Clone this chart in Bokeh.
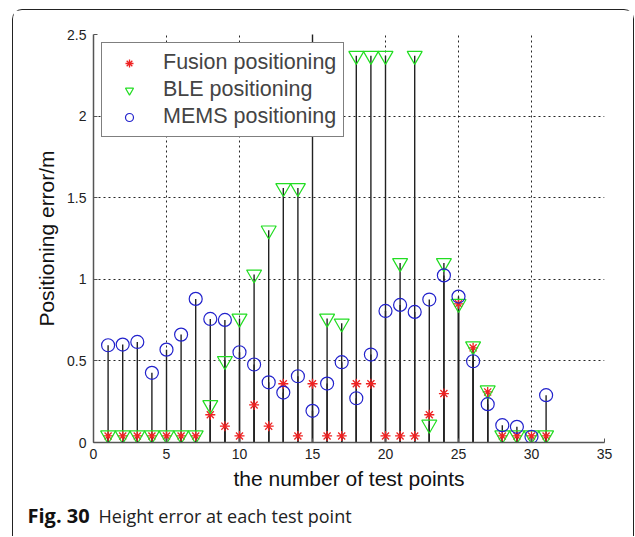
from bokeh.plotting import figure
from bokeh.layouts import column
from bokeh.models import (Legend, LegendItem, Label, ColumnDataSource,
                          NumeralTickFormatter, FixedTicker)
from bokeh.embed import file_html
from bokeh.resources import INLINE

test_points = list(range(1, 32))
fusion = [0.04, 0.04, 0.04, 0.04, 0.04, 0.04, 0.04, 0.17, 0.10, 0.04,
          0.23, 0.10, 0.36, 0.04, 0.36, 0.04, 0.04, 0.36, 0.36, 0.04,
          0.04, 0.04, 0.17, 0.30, 0.85, 0.58, 0.31, 0.04, 0.04, 0.04, 0.04]
ble = [0.045, 0.045, 0.045, 0.045, 0.045, 0.045, 0.045, 0.23, 0.50, 0.76,
       1.03, 1.30, 1.56, 1.56, 2.90, 0.76, 0.73, 2.37, 2.37, 2.37,
       1.10, 2.37, 0.11, 1.10, 0.85, 0.59, 0.32, 0.045, 0.045, 0.045, 0.045]
mems = [0.596, 0.600, 0.616, 0.427, 0.569, 0.661, 0.880, 0.757, 0.751, 0.553,
        0.478, 0.369, 0.306, 0.406, 0.194, 0.361, 0.492, 0.271, 0.539, 0.806,
        0.843, 0.800, 0.876, 1.024, 0.894, 0.498, 0.235, 0.106, 0.096, 0.035, 0.290]
series_names = ["Fusion positioning", "BLE positioning", "MEMS positioning"]
x_ticks = [0, 5, 10, 15, 20, 25, 30, 35]
y_ticks = [0, 0.5, 1, 1.5, 2, 2.5]
caption_bold = "Fig. 30"
caption_text = "Height error at each test point"

src = ColumnDataSource(dict(x=test_points, fusion=fusion, ble=ble, mems=mems,
                            zero=[0] * len(test_points)))

p = figure(width=620, height=490, x_range=(0, 35), y_range=(0, 2.5),
           output_backend="svg", toolbar_location=None,
           min_border_left=80, min_border_right=29, min_border_top=24, min_border_bottom=58)
p.outline_line_color = None

FONT = "Liberation Sans"
for ax in (p.xaxis, p.yaxis):
    ax.axis_line_color = "#555555"
    ax.axis_line_width = 1.5
    ax.major_tick_in = 4
    ax.major_tick_out = 0
    ax.major_tick_line_color = "#555555"
    ax.minor_tick_line_color = None
    ax.major_label_text_font = FONT
    ax.major_label_text_font_size = "14px"
    ax.major_label_text_color = "#222222"
    ax.axis_label_text_font = FONT
    ax.axis_label_text_font_size = "21px"
    ax.axis_label_text_font_style = "normal"
    ax.axis_label_text_color = "#111111"
p.xaxis.ticker = FixedTicker(ticks=x_ticks)
p.yaxis.ticker = FixedTicker(ticks=y_ticks)
p.yaxis.formatter = NumeralTickFormatter(format="0.[0]")
p.xaxis.axis_label = "the number of test points"
p.yaxis.axis_label = "Positioning error/m"
p.xaxis.major_label_standoff = 6
p.yaxis.major_label_standoff = 7
p.xaxis.axis_label_standoff = 5
p.yaxis.axis_label_standoff = 6

for g in (p.xgrid, p.ygrid):
    g.grid_line_color = "black"
    g.grid_line_alpha = 0.85
    g.grid_line_dash = "2 3"
    g.grid_line_width = 1
p.xgrid.ticker = FixedTicker(ticks=x_ticks)
p.ygrid.ticker = FixedTicker(ticks=y_ticks)

# stems
for col in ("fusion", "ble", "mems"):
    p.segment(x0="x", y0="zero", x1="x", y1=col, source=src,
              line_color="#222222", line_width=1.4)

r_f = p.scatter("x", "fusion", source=src, marker="asterisk", size=10,
                line_color="#ee2222", line_width=1.3)
r_b = p.scatter("x", "ble", source=src, marker="inverted_triangle", size=15,
                line_color="#22dd22", fill_color=None, line_width=1.2)
r_m = p.scatter("x", "mems", source=src, marker="circle", size=13,
                line_color="#2222cc", fill_color=None, line_width=1.2)

legend = Legend(items=[LegendItem(label=series_names[0], renderers=[r_f]),
                       LegendItem(label=series_names[1], renderers=[r_b]),
                       LegendItem(label=series_names[2], renderers=[r_m])],
                location="top_left", margin=8, padding=7, spacing=2,
                glyph_width=40, glyph_height=20, label_standoff=14, label_height=22,
                label_text_font=FONT, label_text_font_size="21.5px",
                border_line_color="black", border_line_width=1,
                background_fill_color="white", background_fill_alpha=1)
p.add_layout(legend, "center")

# caption strip (pixel coordinates inside its own figure)
cap = figure(width=620, height=36, x_range=(0, 620), y_range=(0, 36),
             output_backend="svg", toolbar_location=None,
             min_border=0, min_border_left=0, min_border_right=0,
             min_border_top=0, min_border_bottom=0)
cap.frame_align = False
cap.axis.visible = False
cap.grid.visible = False
cap.outline_line_color = None
cap.add_layout(Label(x=14, y=21, text=caption_bold, text_font="Open Sans",
                     text_font_style="bold", text_font_size="20px", text_color="#111111",
                     text_baseline="alphabetic"))
cap.add_layout(Label(x=85, y=21, text=caption_text,
                     text_font="Open Sans", text_font_size="18px", text_color="#222222",
                     text_baseline="alphabetic"))

layout = column(p, cap, margin=(9, 0, 0, 12), spacing=0,
                styles={"border-top": "1.2px solid #222", "border-left": "1.2px solid #222",
                        "border-right": "1.2px solid #222",
                        "border-top-left-radius": "10px", "border-top-right-radius": "10px"})

open("out.html", "w").write(file_html(layout, INLINE))
